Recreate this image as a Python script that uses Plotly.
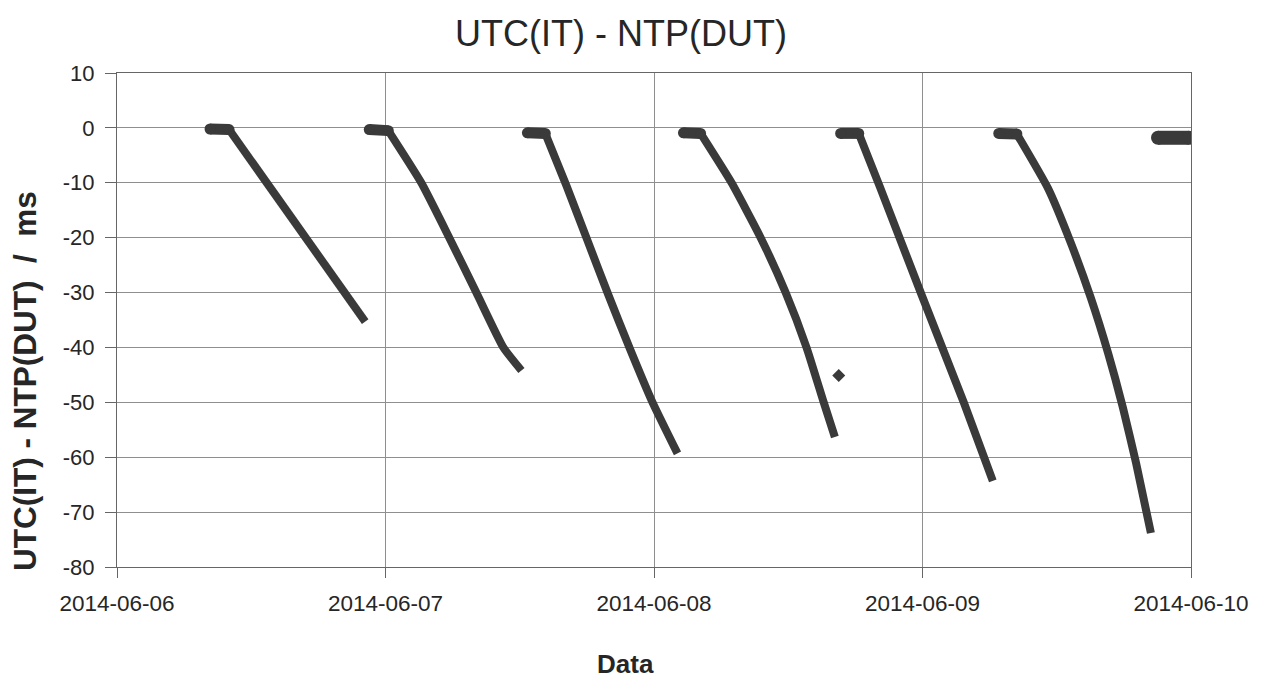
import plotly.graph_objects as go

# ---- data (time, UTC(IT) - NTP(DUT) in ms) ----
seg1_t = ["2014-06-06 08:19", "2014-06-06 10:01", "2014-06-06 22:11"]
seg1_v = [-0.2, -0.3, -35.3]

seg2_t = ["2014-06-06 22:33", "2014-06-07 00:15", "2014-06-07 03:12", "2014-06-07 05:42",
          "2014-06-07 08:07", "2014-06-07 10:32", "2014-06-07 12:09"]
seg2_v = [-0.3, -0.5, -10, -20, -30, -40, -44.2]

seg3_t = ["2014-06-07 12:41", "2014-06-07 14:17", "2014-06-07 16:10", "2014-06-07 18:03",
          "2014-06-07 19:56", "2014-06-07 21:48", "2014-06-07 23:52", "2014-06-08 02:06"]
seg3_v = [-0.9, -1.0, -10.5, -20.5, -30.5, -40, -50, -59.3]

seg4_t = ["2014-06-08 02:38", "2014-06-08 04:10", "2014-06-08 06:56", "2014-06-08 09:32",
          "2014-06-08 11:46", "2014-06-08 13:38", "2014-06-08 15:10", "2014-06-08 16:10"]
seg4_v = [-0.9, -1.0, -10, -20, -30, -40, -50, -56.3]

outlier_t = ["2014-06-08 16:31"]
outlier_v = [-45.1]

seg5_t = ["2014-06-08 16:41", "2014-06-08 18:18", "2014-06-08 20:11", "2014-06-08 23:56",
          "2014-06-09 03:41", "2014-06-09 06:17"]
seg5_v = [-1, -1, -10.7, -30.5, -50, -64.3]

seg6_t = ["2014-06-09 06:49", "2014-06-09 08:26", "2014-06-09 11:13", "2014-06-09 13:16",
          "2014-06-09 15:03", "2014-06-09 16:35", "2014-06-09 17:55", "2014-06-09 19:05",
          "2014-06-09 20:25"]
seg6_v = [-1, -1.1, -11, -21, -31, -41, -51, -61, -73.8]

seg7_t = ["2014-06-09 21:03", "2014-06-09 23:49"]
seg7_v = [-1.8, -1.8]

x_ticks = ["2014-06-06", "2014-06-07", "2014-06-08", "2014-06-09", "2014-06-10"]
y_ticks = [10, 0, -10, -20, -30, -40, -50, -60, -70, -80]

title_text = "UTC(IT) - NTP(DUT)"
ytitle_text = "UTC(IT) - NTP(DUT) &nbsp;/&nbsp; ms"
xtitle_text = "Data"

INK = "#3a3a3a"
GRID = "#8f8f8f"
TXT = "#262626"

fig = go.Figure()
segments = [(seg1_t, seg1_v), (seg2_t, seg2_v), (seg3_t, seg3_v), (seg4_t, seg4_v),
            (seg5_t, seg5_v), (seg6_t, seg6_v)]
for t, v in segments:
    # drifting (free-running) part, from the corner onwards
    fig.add_trace(go.Scatter(x=t[1:], y=v[1:], mode="lines",
                             line=dict(color=INK, width=8, shape="spline", smoothing=0.5),
                             showlegend=False))
    # thicker blob on the flat (synchronised) part
    fig.add_trace(go.Scatter(x=t[:2], y=v[:2], mode="lines+markers",
                             line=dict(color=INK, width=11),
                             marker=dict(color=INK, size=11, symbol="circle"),
                             showlegend=False, hoverinfo="skip"))
fig.add_trace(go.Scatter(x=seg7_t, y=seg7_v, mode="lines+markers",
                         line=dict(color=INK, width=14),
                         marker=dict(color=INK, size=14, symbol="circle"),
                         showlegend=False))
fig.add_trace(go.Scatter(x=outlier_t, y=outlier_v, mode="markers",
                         marker=dict(symbol="diamond", size=10, color=INK),
                         showlegend=False))

# the page body adds an 8 px offset; figure sized to fill the rest of the window
OFF = 8
W, H = 1267 - OFF, 680 - OFF
L = 117 - OFF
T = 73 - OFF
R = W - (1191 - OFF)
B = H - (567 - OFF)
PW, PH = W - L - R, H - T - B


def px(xw):
    return (xw - OFF - L) / PW


def py(yw):
    return 1 - (yw - OFF - T) / PH


fig.update_layout(
    width=W, height=H,
    margin=dict(l=L, r=R, t=T, b=B, autoexpand=False),
    paper_bgcolor="white", plot_bgcolor="white",
    font=dict(family="Liberation Sans, Arial, sans-serif", color=TXT),
    title=dict(text=title_text, x=(621 - OFF) / W, xref="container", xanchor="center",
               y=1 - (33 - OFF) / H, yref="container", yanchor="middle",
               font=dict(size=36, color=TXT)),
)
fig.update_xaxes(
    type="date", range=["2014-06-06", "2014-06-10"],
    tickvals=x_ticks, ticktext=x_ticks,
    showgrid=True, gridcolor=GRID, gridwidth=1,
    showline=True, linecolor="#666", linewidth=1, mirror=True,
    ticks="outside", ticklen=10, tickcolor="#666",
    tickfont=dict(size=22.5, color=TXT), ticklabelstandoff=6,
    zeroline=False,
)
fig.update_yaxes(
    range=[-80, 10], tickvals=y_ticks, ticktext=[str(v) for v in y_ticks],
    showgrid=True, gridcolor=GRID, gridwidth=1,
    showline=True, linecolor="#666", linewidth=1, mirror=True,
    ticks="outside", ticklen=11, tickcolor="#666",
    tickfont=dict(size=22, color=TXT), ticklabelstandoff=6,
    zeroline=False,
)
fig.add_annotation(text="<b>" + xtitle_text + "</b>", xref="paper", yref="paper",
                   x=px(625), y=py(664), xanchor="center", yanchor="middle",
                   showarrow=False, font=dict(size=26, color=TXT))
fig.add_annotation(text="<b>" + ytitle_text + "</b>", xref="paper", yref="paper",
                   x=px(25), y=py(381), xanchor="center", yanchor="middle",
                   textangle=-90, showarrow=False, font=dict(size=31.5, color=TXT))

fig.write_html("out.html")
